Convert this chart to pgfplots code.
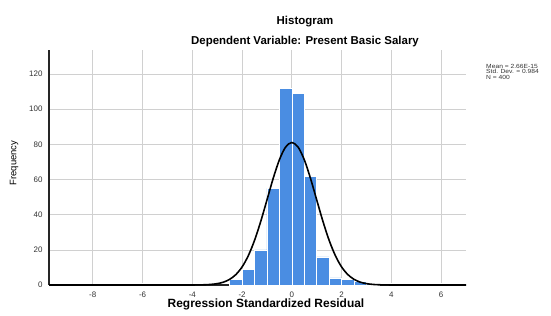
\documentclass[border=0pt]{standalone}
\usepackage{pgfplots}
\pgfplotsset{compat=1.18}
\usepackage{fontspec}
\setmainfont{Liberation Sans}
\definecolor{barblue}{RGB}{74,141,226}
\definecolor{gridgray}{RGB}{208,208,208}
\begin{document}
\begin{tikzpicture}[x=1bp,y=1bp]
\useasboundingbox (0,0) rectangle (551,-315);
\begin{axis}[
  at={(49bp,-285bp)}, anchor=south west,
  scale only axis, width=417bp, height=235bp,
  xmin=-9.76, xmax=7.0, ymin=0, ymax=133.7,
  axis lines=left, axis line style={-, line width=1.1pt, black!85},
  xtick={-8,-6,-4,-2,0,2,4,6},
  ytick={0,20,40,60,80,100,120},
  grid=major, major grid style={gridgray, line width=0.7pt},
  major tick length=0pt,
  tick label style={font=\fontsize{8}{9}\selectfont, text=black!80},
  xticklabel style={yshift=-3bp},
  yticklabel style={xshift=-3bp},
  /pgf/number format/assume math mode=true,
  clip=false,
]
\addplot[ybar, bar width=0.5, bar shift=0pt, fill=barblue, draw=white, line width=0.5pt]
  coordinates {
  (-6.25,1) (-4.75,1)
  (-2.25,3) (-1.75,9) (-1.25,20) (-0.75,55) (-0.25,112)
  (0.25,109) (0.75,62) (1.25,16) (1.75,4) (2.25,3)
  (2.75,2) (3.25,1) (4.25,1) (5.75,1)
  };
\addplot[black, line width=1.6pt, smooth] coordinates {
  (-9.76,0) (-5,0) (-4,0.02) (-3.5,0.145) (-3.25,0.35) (-3.0,0.78) (-2.75,1.63)
  (-2.5,3.22) (-2.25,5.94) (-2.0,10.28) (-1.75,16.68) (-1.5,25.37)
  (-1.25,36.19) (-1.0,48.39) (-0.75,60.65) (-0.5,71.27) (-0.25,78.51)
  (0,81.09)
  (0.25,78.51) (0.5,71.27) (0.75,60.65) (1.0,48.39) (1.25,36.19)
  (1.5,25.37) (1.75,16.68) (2.0,10.28) (2.25,5.94) (2.5,3.22)
  (2.75,1.63) (3.0,0.78) (3.25,0.35) (3.5,0.145) (4,0.02) (5,0) (7.0,0)
  };
\end{axis}
\node[font=\bfseries\fontsize{11.5}{13}\selectfont] at (305,-22) {Histogram};
\node[font=\bfseries\fontsize{11.5}{13}\selectfont] at (305,-42) {Dependent Variable: Present Basic Salary};
\node[font=\bfseries\fontsize{12}{14}\selectfont] at (266,-304) {Regression Standardized Residual};
\node[font=\fontsize{9.5}{11}\selectfont, rotate=90] at (14,-163) {Frequency};
\node[font=\fontsize{6}{5.4}\selectfont, anchor=north west, align=left, inner sep=0pt, text=black!80, xscale=1.12] at (486,-64)
  {Mean = 2.66E-15\\Std. Dev. = 0.984\\N = 400};
\end{tikzpicture}
\end{document}
